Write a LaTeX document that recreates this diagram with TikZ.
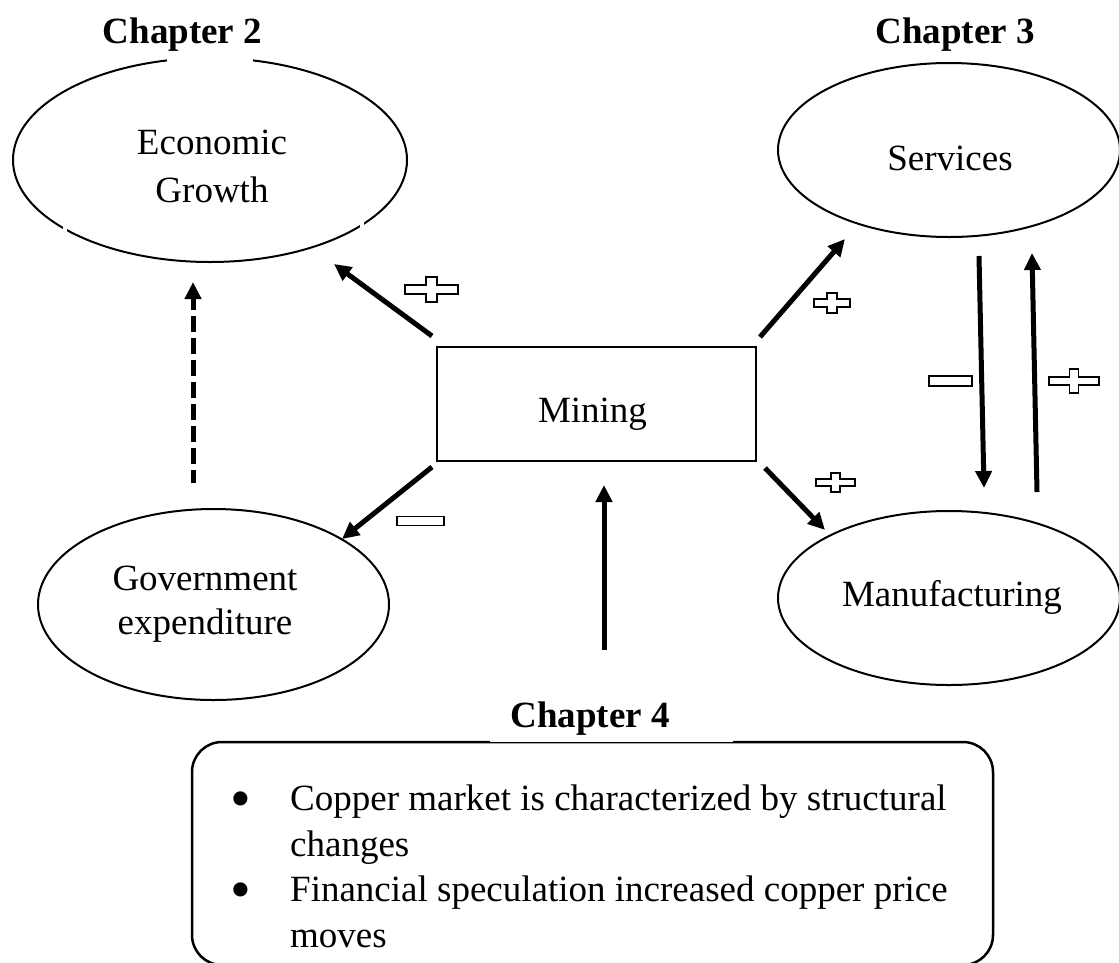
\documentclass[tikz,border=0pt]{standalone}
\usepackage{graphicx}
\usepackage{fontspec}
\setmainfont{Liberation Serif}
\usetikzlibrary{arrows.meta,shapes.geometric}

% outlined plus sign: x, y, half width, half height, half bar thickness, half stem width
\newcommand\plusmark[6]{%
  \draw[sign, shift={(#1,#2)}]
    (-#3,-#5) -- (-#6,-#5) -- (-#6,-#4) -- (#6,-#4) -- (#6,-#5) -- (#3,-#5)
    -- (#3,#5) -- (#6,#5) -- (#6,#4) -- (-#6,#4) -- (-#6,#5) -- (-#3,#5) -- cycle;}

% list bullet with its hanging indent
\newcommand\itembullet{\makebox[55.5pt][l]{\hspace*{-4pt}\raisebox{-7.5pt}{\scalebox{1.6}{\textbullet}}}}

\tikzset{
  oval/.style={draw, ellipse, line width=2pt, inner sep=0pt},
  block/.style={draw, rectangle, line width=2.3pt, inner sep=0pt},
  panel/.style={draw, rectangle, rounded corners=30pt, line width=2.5pt, inner sep=0pt},
  txt/.style={font=\fontsize{37pt}{48pt}\selectfont, inner sep=0pt},
  head/.style={font=\fontsize{37pt}{44pt}\selectfont\bfseries, inner sep=0pt},
  arr/.style={line width=5pt, -{Triangle[length=17pt,width=16pt]}},
  sign/.style={draw, fill=white, line width=1.8pt, line join=miter},
}

\begin{document}
\begin{tikzpicture}[x=1pt,y=-1pt]
\useasboundingbox (0,0) rectangle (1119,962);

% chapter headings
\node[head, anchor=base] (ch2) at (182.5,43) {Chapter 2};
\node[head, anchor=base] (ch3) at (955,43) {Chapter 3};

% sectors
\node[oval, minimum width=394pt, minimum height=204pt] (eg) at (210,160) {};
\node[oval, minimum width=342pt, minimum height=174pt] (sv) at (949,150) {};
\node[oval, minimum width=351pt, minimum height=191pt] (gv) at (213.5,604.5) {};
\node[oval, minimum width=342pt, minimum height=174pt] (mf) at (949,598) {};
\node[block, minimum width=319pt, minimum height=114pt] (mn) at (596.5,404) {};

% breaks in the outlines left by text frames
\fill[white] (167,52) rectangle (253,64);
\fill[white] (63,222) rectangle (67,236);
\fill[white] (360,216) rectangle (364,230);
\fill[white] (93,655) rectangle (99,663);

\node[txt, align=center] (eg-t) at (212,166.4) {Economic\\Growth};
\node[txt, anchor=base] (sv-t) at (950,170) {Services};
\node[txt, anchor=base] (mn-t) at (592.5,422) {Mining};
\node[txt, align=center, font=\fontsize{37pt}{44pt}\selectfont] (gv-t) at (205,604.5) {Government\\expenditure};
\node[txt, anchor=base] (mf-t) at (952,606) {Manufacturing};

% chapter 4 panel
\node[panel, minimum width=801pt, minimum height=223pt] (box) at (592.5,853.5) {};
\fill[white] (490,740.4) rectangle (733,742);
\node[head, anchor=base] (ch4) at (590,727) {Chapter 4};
\node[txt, anchor=north west, align=left, font=\fontsize{37pt}{45.7pt}\selectfont] (box-t) at (234.5,784.7)
  {\itembullet Copper market is characterized by structural\\
   \hspace*{55.5pt}changes\\
   \itembullet Financial speculation increased copper price\\
   \hspace*{55.5pt}moves};

% arrow end points
\coordinate (a1s) at (432,336);  \coordinate (a1e) at (334,264);
\coordinate (a2s) at (760,337);  \coordinate (a2e) at (845,239);
\coordinate (a3s) at (432,467);  \coordinate (a3e) at (342,539);
\coordinate (a4s) at (765,468);  \coordinate (a4e) at (825,530);
\coordinate (a5s) at (979,256);  \coordinate (a5e) at (984,488);
\coordinate (a6s) at (1037,492); \coordinate (a6e) at (1032,253);
\coordinate (a7s) at (193,483);  \coordinate (a7e) at (193,282);
\coordinate (a8s) at (604,650);  \coordinate (a8e) at (604,485);

\draw[arr] (a1s) -- (a1e);
\draw[arr] (a2s) -- (a2e);
\draw[arr] (a3s) -- (a3e);
\draw[arr] (a4s) -- (a4e);
\draw[arr] (a5s) -- (a5e);
\draw[arr] (a6s) -- (a6e);
\draw[arr, dash pattern=on 15.5pt off 6.5pt, dash phase=2.5pt] (a7s) -- (a7e);
\draw[arr] (a8s) -- (a8e);

% signs of the effects
\plusmark{431.5}{289.5}{26.5}{12.5}{4.5}{5.5}
\plusmark{832}{303}{18}{10}{4}{5}
\plusmark{835.5}{482.5}{19.5}{9.5}{3.5}{4.5}
\plusmark{1074}{381}{25}{12}{4}{4.5}
\draw[sign] (397,516.5) rectangle (444,525.5);
\draw[sign] (929,376) rectangle (972,386);
\end{tikzpicture}
\end{document}
